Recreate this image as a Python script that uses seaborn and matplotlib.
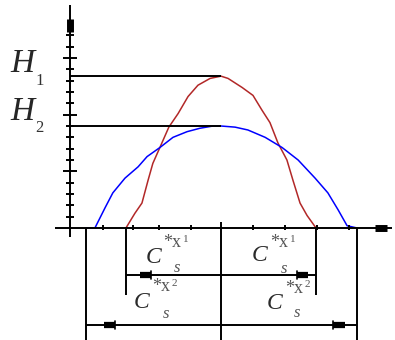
import numpy as np
import pandas as pd
import matplotlib
matplotlib.use("Agg")
import matplotlib.pyplot as plt
import seaborn as sns

# Narrow profile (red): abscissa in x-tick units, height in y-tick units
red_x = [-2.97, -2.69, -2.47, -2.28, -2.13, -1.91, -1.63, -1.34, -1.03, -0.72, -0.34, 0.0,
         0.22, 0.66, 1.0, 1.28, 1.53, 1.78, 2.06, 2.25, 2.47, 2.69, 2.97]
red_y = [0, 1.3, 2.2, 4.2, 5.7, 7.1, 8.9, 10.1, 11.6, 12.6, 13.2, 13.4,
         13.2, 12.4, 11.7, 10.4, 9.3, 7.5, 6.0, 4.2, 2.2, 1.1, 0]

# Wide profile (blue)
blue_x = [-4.22, -3.94, -3.62, -3.38, -3.0, -2.59, -2.31, -1.91, -1.5, -1.06, -0.66, -0.25, 0.0,
          0.44, 0.84, 1.38, 1.91, 2.41, 2.94, 3.34, 3.66, 3.94, 4.25]
blue_y = [0, 0, 1.8, 3.1, 4.4, 5.4, 6.3, 7.1, 8.0, 8.5, 8.8, 9.0, 9.0,
          8.9, 8.65, 8.0, 7.1, 6.0, 4.4, 3.1, 1.6, 0.2, 0]

H1 = 13.4
H2 = 9.0
y_ticks = list(range(1, 18))
y_major = [5, 10, 15]
x_ticks = [-3.69, -2.75, -1.94, -0.94, 1, 2, 3, 4]

df = pd.concat([
    pd.DataFrame({"x": red_x, "h": red_y, "profile": "x1"}),
    pd.DataFrame({"x": blue_x, "h": blue_y, "profile": "x2"}),
])

sns.set_style("white")
fig = plt.figure(figsize=(3.95, 3.4), dpi=100)
ax = fig.add_axes([0, 0, 1, 1])
ax.set_xlim(-6.906, 5.4375)
ax.set_ylim(-9.885, 20.12)
ax.axis("off")

sns.lineplot(data=df, x="x", y="h", hue="profile", units="profile", estimator=None,
             sort=False, palette={"x1": "#b22828", "x2": "#0000ff"}, linewidth=1.1,
             legend=False, ax=ax)

k = dict(color="black", lw=1.4, solid_capstyle="butt")
y0x = -4.72  # position of the vertical axis

# axes
ax.plot([y0x, y0x], [-0.8, 19.7], **k)
ax.plot([-5.19, 5.34], [0, 0], **k)
# axis arrowheads
ax.plot([y0x, y0x], [17.3, 18.4], color="black", lw=5, solid_capstyle="butt")
ax.plot([4.81, 5.2], [0, 0], color="black", lw=5, solid_capstyle="butt")

# ticks
for t in y_ticks:
    half = 0.23 if t in y_major else 0.13
    ax.plot([y0x - half, y0x + half], [t, t], **k)
for t in x_ticks:
    ax.plot([t, t], [-0.22, 0.28], **k)

# height levels
ax.plot([y0x, 0], [H1, H1], **k)
ax.plot([y0x, 0], [H2, H2], **k)

# extension lines
rx0, rx1 = red_x[0], red_x[-1]
bx0, bx1 = blue_x[0], blue_x[-1]
ax.plot([0, 0], [0.5, -9.9], **k)
ax.plot([rx0, rx0], [0, -5.9], **k)
ax.plot([rx1, rx1], [0, -5.9], **k)
ax.plot([bx0, bx0], [0, -9.9], **k)
ax.plot([bx1, bx1], [0, -9.9], **k)

# dimension lines
d1, d2 = -4.15, -8.56
ax.plot([rx0, rx1], [d1, d1], **k)
ax.plot([bx0, bx1], [d2, d2], **k)


def head(x_tip, x_tail, y):
    ax.plot([x_tip, x_tail], [y, y], color="black", lw=4.5, solid_capstyle="butt")
    ax.plot([x_tail, x_tail], [y - 0.33, y + 0.33], color="black", lw=1.2)


head(-2.53, -2.19, d1)
head(2.72, 2.375, d1)
head(-3.66, -3.31, d2)
head(3.875, 3.5, d2)

# labels
serif = "Liberation Serif"
for h_y, sub, sub_y in [(14.5, "1", 13.0), (10.25, "2", 8.8)]:
    ax.text(-6.22, h_y, "H", fontsize=24, fontstyle="italic", family=serif,
            ha="center", va="center")
    ax.text(-5.66, sub_y, sub, fontsize=12, family=serif, ha="center", va="center",
            color="#333333")


def cs(cx, cy, sup, sx, sy, ssx, ssy):
    ax.text(cx, cy, "C", fontsize=17, fontstyle="italic", family=serif,
            ha="center", va="center", color="#2a2a2a")
    ax.text(sx, sy, "*x", fontsize=13, family=serif, ha="left", va="center", color="#555555")
    ax.text(sx + 0.62, sy + 0.3, sup, fontsize=8, family=serif, ha="left", va="center",
            color="#555555")
    ax.text(ssx, ssy, "s", fontsize=12, fontstyle="italic", family=serif,
            ha="center", va="center", color="#555555")


cs(-2.11, -2.6, "1", -1.81, -1.3, -1.36, -3.55)
cs(-2.48, -6.58, "2", -2.16, -5.2, -1.72, -7.6)
cs(1.22, -2.45, "1", 1.53, -1.3, 1.97, -3.6)
cs(1.66, -6.66, "2", 2.0, -5.3, 2.39, -7.5)

fig.savefig("out.png", dpi=100)
